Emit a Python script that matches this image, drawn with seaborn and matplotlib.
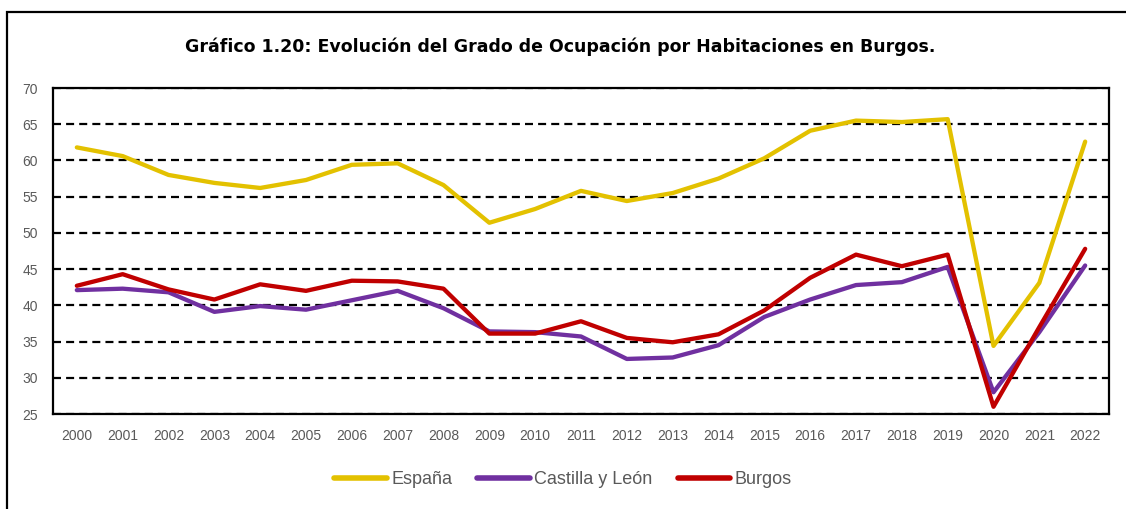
import numpy as np
import pandas as pd
import matplotlib
matplotlib.use("Agg")
import matplotlib.pyplot as plt
from matplotlib.patches import Rectangle
import seaborn as sns

# ---- data ----
years = list(range(2000, 2023))
espana = [61.8, 60.6, 58.0, 56.9, 56.2, 57.3, 59.4, 59.6, 56.6, 51.4, 53.3, 55.8,
          54.4, 55.5, 57.5, 60.3, 64.1, 65.5, 65.3, 65.7, 34.4, 43.1, 62.6]
castilla = [42.1, 42.3, 41.8, 39.1, 39.9, 39.4, 40.7, 42.0, 39.6, 36.4, 36.3, 35.7,
            32.6, 32.8, 34.5, 38.4, 40.8, 42.8, 43.2, 45.3, 28.0, 36.3, 45.5]
burgos = [42.7, 44.3, 42.2, 40.8, 42.9, 42.0, 43.4, 43.3, 42.3, 36.1, 36.1, 37.8,
          35.5, 34.9, 36.0, 39.3, 43.8, 47.0, 45.4, 47.0, 26.0, 37.0, 47.8]
series_names = ["España", "Castilla y León", "Burgos"]
y_ticks = [25, 30, 35, 40, 45, 50, 55, 60, 65, 70]
title = "Gráfico 1.20: Evolución del Grado de Ocupación por Habitaciones en Burgos."

colors = {"España": "#E3C100", "Castilla y León": "#7030A0", "Burgos": "#C00000"}

df = pd.DataFrame({
    "year": years * 3,
    "value": espana + castilla + burgos,
    "serie": [series_names[0]] * len(years) + [series_names[1]] * len(years)
             + [series_names[2]] * len(years),
})

sns.set_style("white")
plt.rcParams["font.family"] = ["Liberation Sans", "DejaVu Sans"]

W, H = 1126, 509
fig = plt.figure(figsize=(W / 100, H / 100), dpi=100)
ax = fig.add_axes([53 / W, 1 - 414 / H, (1109 - 53) / W, (414 - 88) / H])

sns.lineplot(data=df, x="year", y="value", hue="serie", hue_order=series_names,
             palette=colors, linewidth=3.1, ax=ax, legend=True, sort=False)

ax.set_xlim(1999.48, 2022.52)
ax.set_ylim(25, 70)
ax.set_xticks(years)
ax.set_xticklabels([str(y) for y in years])
ax.set_yticks(y_ticks)
ax.set_xlabel("")
ax.set_ylabel("")

ax.yaxis.grid(True, linestyle=(0, (3.6, 2.3)), color="black", linewidth=1.6)
ax.xaxis.grid(False)
ax.set_axisbelow(True)
for s in ax.spines.values():
    s.set_visible(True)
    s.set_color("black")
    s.set_linewidth(1.6)

ax.tick_params(axis="both", length=0, labelsize=10, labelcolor="#595959")
ax.tick_params(axis="y", pad=11)
ax.tick_params(axis="x", pad=11)

handles, labels = ax.get_legend_handles_labels()
ax.legend_.remove()
leg = fig.legend(handles, labels, loc="center", bbox_to_anchor=(0.5, 1 - 480 / H),
                 ncol=3, frameon=False, fontsize=13, handlelength=2.9,
                 handletextpad=0.25, columnspacing=1.4)
for t in leg.get_texts():
    t.set_color("#595959")
for l in leg.get_lines():
    l.set_linewidth(4)

fig.text(0.4975, 1 - 47 / H, title, ha="center", va="center",
         fontsize=12.5, fontweight="bold", family="DejaVu Sans", color="black")

fig.patches.append(Rectangle((7 / W, -0.2), 1.5, (1 - 12 / H) + 0.2,
                             transform=fig.transFigure, fill=False,
                             edgecolor="black", linewidth=1.6))

fig.savefig("out.png", dpi=100)
